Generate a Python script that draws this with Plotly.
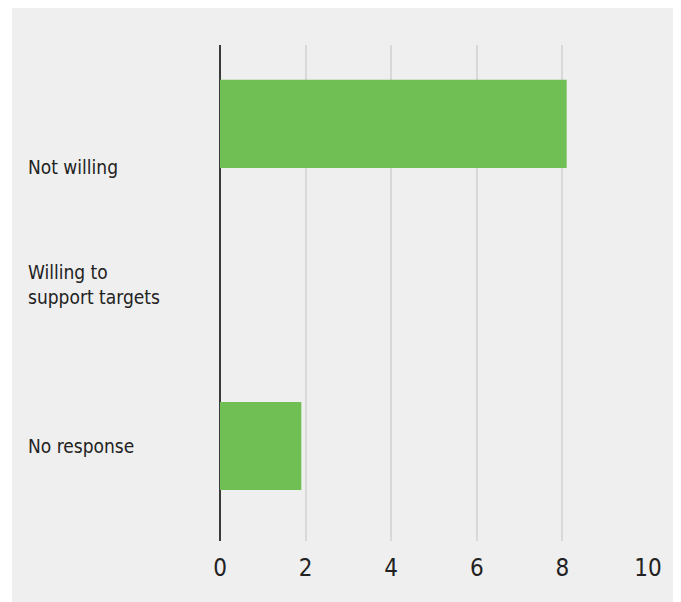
import plotly.graph_objects as go

categories = ["Not willing", "Willing to<br>support targets", "No response"]
values = [8.1, 0, 1.9]
tick_vals = [0, 2, 4, 6, 8, 10]
tick_text = ["0", "2", "4", "6", "8", "10"]

FONT = "DejaVu Sans Condensed"

fig = go.Figure()
fig.add_trace(go.Bar(
    x=values, y=categories, orientation="h",
    marker=dict(color="#70bf55", line=dict(width=0)),
    width=0.547, hoverinfo="skip",
))

label_shift = {"Not willing": -43}
for c in categories:
    fig.add_annotation(
        x=-0.453, xref="paper", y=c, yref="y", text=c, showarrow=False,
        xanchor="left", yanchor="middle", align="left",
        yshift=label_shift.get(c, 0),
        font=dict(family=FONT, size=19, color="#222222"),
    )

fig.add_shape(type="rect", xref="paper", yref="paper",
              x0=-0.486, x1=1.2, y0=-0.2, y1=1.0746,
              fillcolor="#efefef", line=dict(width=0), layer="below")

fig.update_layout(
    width=681, height=602,
    margin=dict(l=212, r=41, t=37, b=69),
    paper_bgcolor="white", plot_bgcolor="#efefef",
    showlegend=False, bargap=0.45,
    font=dict(family=FONT, color="#222222"),
    xaxis=dict(range=[0, 10], tickvals=tick_vals, ticktext=tick_text,
               showgrid=True, gridcolor="#d8d8d8", gridwidth=1.5,
               zeroline=True, zerolinecolor="#3a3a3a", zerolinewidth=1.5,
               showline=False, ticks="", ticklabelstandoff=10,
               tickfont=dict(family=FONT, size=24, color="#222222")),
    yaxis=dict(categoryorder="array", categoryarray=categories,
               range=[2.59, -0.49], showticklabels=False, showgrid=False,
               zeroline=False, showline=False, ticks=""),
)

fig.write_html("out.html")
